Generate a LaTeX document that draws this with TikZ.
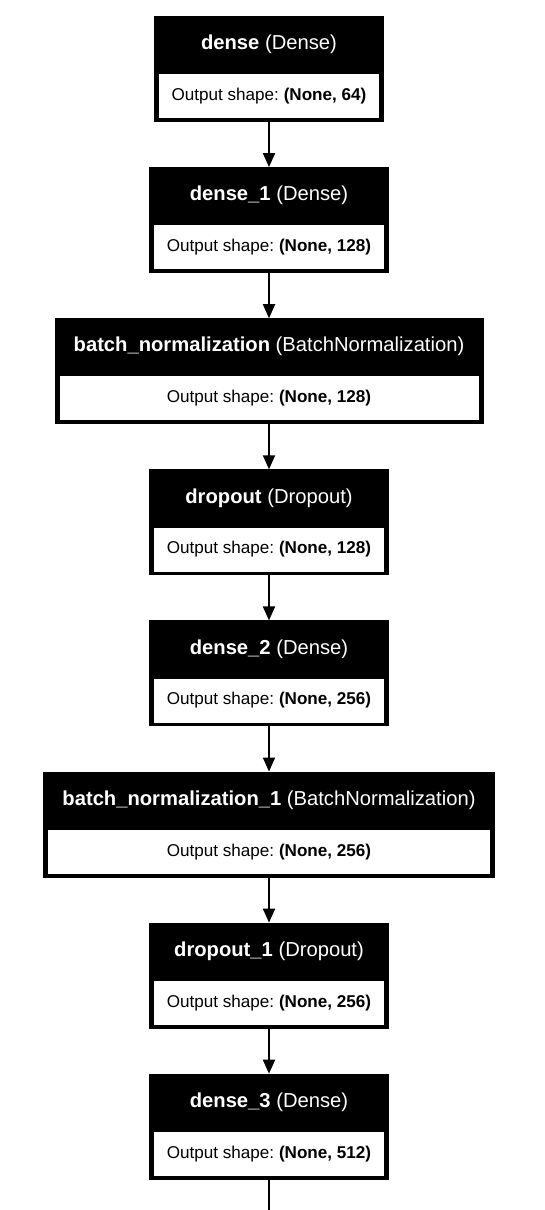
\documentclass[tikz,border=0pt]{standalone}
\usepackage{fontspec}
\setmainfont{Liberation Sans}
\frenchspacing
\usetikzlibrary{calc,arrows.meta}
\tikzset{
  frame/.style={rectangle, fill=black, draw=black, line width=1pt, minimum height=105pt, inner sep=0pt, anchor=north},
  htext/.style={text=white, font=\fontsize{20.2}{24}\selectfont, inner sep=0pt},
  bodybox/.style={rectangle, fill=white, draw=black, line width=0.8pt, minimum height=45pt, inner sep=0pt, anchor=south, font=\fontsize{17.1}{20}\selectfont},
  arr/.style={line width=1.9pt, -{Triangle[length=14pt,width=12pt]}},
  plain/.style={line width=1.9pt}
}
\newcommand\kerlayer[5]{%
  \node[frame, minimum width=#3] (#1) at (269,#2) {};
  \node[htext] (#1h) at ($(#1.north)+(0,28.5)$) {\textbf{#4}};
  \node[bodybox, minimum width=#3-8] (#1b) at ($(#1.south)+(0,-3)$) {Output shape: \textbf{#5}};
}
\begin{document}
\begin{tikzpicture}[x=1pt,y=-1pt]
\useasboundingbox[fill=white] (0,0) rectangle (544,1210);
\kerlayer{L1}{16}{229}{dense \textmd{(Dense)}}{(None, 64)}
\kerlayer{L2}{167.1}{239}{dense\_1 \textmd{(Dense)}}{(None, 128)}
\kerlayer{L3}{318.2}{428}{batch\_normalization \textmd{(BatchNormalization)}}{(None, 128)}
\kerlayer{L4}{469.3}{239}{dropout \textmd{(Dropout)}}{(None, 128)}
\kerlayer{L5}{620.4}{239}{dense\_2 \textmd{(Dense)}}{(None, 256)}
\kerlayer{L6}{771.5}{451}{batch\_normalization\_1 \textmd{(BatchNormalization)}}{(None, 256)}
\kerlayer{L7}{922.6}{239}{dropout\_1 \textmd{(Dropout)}}{(None, 256)}
\kerlayer{L8}{1073.7}{239}{dense\_3 \textmd{(Dense)}}{(None, 512)}
\coordinate (end) at (269,1210);
\draw[arr] (L1.south) -- (L2.north);
\draw[arr] (L2.south) -- (L3.north);
\draw[arr] (L3.south) -- (L4.north);
\draw[arr] (L4.south) -- (L5.north);
\draw[arr] (L5.south) -- (L6.north);
\draw[arr] (L6.south) -- (L7.north);
\draw[arr] (L7.south) -- (L8.north);
\draw[plain] (L8.south) -- (end);
\end{tikzpicture}
\end{document}
